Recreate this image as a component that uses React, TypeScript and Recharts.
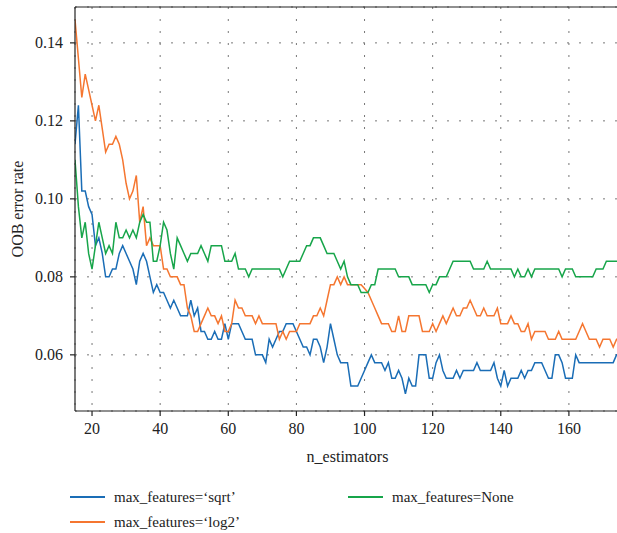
import React from 'react';
import { LineChart, Line, XAxis, YAxis, CartesianGrid, ReferenceLine, Label } from 'recharts';

// n_estimators runs from 15 to 175, one point per tree count
const N_START = 15;
const N_COUNT = 161;
const N_ESTIMATORS = Array.from({ length: N_COUNT }, (_, i) => N_START + i);

// OOB error rate, ten values per row (15-24, 25-34, ...)
const SQRT = [
    0.114, 0.124, 0.102, 0.102, 0.098, 0.096, 0.088, 0.090, 0.086, 0.080,
    0.080, 0.082, 0.082, 0.086, 0.088, 0.086, 0.084, 0.082, 0.078, 0.084,
    0.086, 0.084, 0.080, 0.076, 0.078, 0.076, 0.076, 0.074, 0.072, 0.074,
    0.072, 0.070, 0.070, 0.070, 0.074, 0.070, 0.072, 0.066, 0.066, 0.064,
    0.064, 0.066, 0.064, 0.064, 0.068, 0.064, 0.068, 0.068, 0.068, 0.066,
    0.064, 0.064, 0.064, 0.060, 0.060, 0.060, 0.058, 0.064, 0.062, 0.064,
    0.066, 0.066, 0.068, 0.068, 0.068, 0.066, 0.064, 0.062, 0.062, 0.060,
    0.064, 0.064, 0.062, 0.058, 0.062, 0.068, 0.064, 0.060, 0.058, 0.058,
    0.058, 0.052, 0.052, 0.052, 0.054, 0.056, 0.058, 0.060, 0.058, 0.058,
    0.058, 0.056, 0.058, 0.054, 0.054, 0.056, 0.054, 0.050, 0.054, 0.052,
    0.052, 0.060, 0.060, 0.060, 0.054, 0.054, 0.058, 0.060, 0.056, 0.054,
    0.054, 0.054, 0.056, 0.054, 0.056, 0.056, 0.056, 0.056, 0.058, 0.056,
    0.056, 0.056, 0.056, 0.058, 0.054, 0.052, 0.056, 0.052, 0.054, 0.054,
    0.054, 0.056, 0.054, 0.056, 0.056, 0.058, 0.058, 0.058, 0.056, 0.054,
    0.054, 0.060, 0.060, 0.058, 0.054, 0.054, 0.054, 0.060, 0.058, 0.058,
    0.058, 0.058, 0.058, 0.058, 0.058, 0.058, 0.058, 0.058, 0.058, 0.060,
    0.060,
];

const LOG2 = [
    0.146, 0.136, 0.126, 0.132, 0.128, 0.124, 0.120, 0.124, 0.118, 0.112,
    0.114, 0.114, 0.116, 0.114, 0.110, 0.104, 0.100, 0.102, 0.106, 0.094,
    0.098, 0.088, 0.090, 0.088, 0.088, 0.088, 0.082, 0.082, 0.080, 0.080,
    0.080, 0.078, 0.078, 0.072, 0.070, 0.066, 0.066, 0.068, 0.070, 0.072,
    0.070, 0.070, 0.068, 0.070, 0.066, 0.066, 0.068, 0.074, 0.072, 0.072,
    0.070, 0.070, 0.070, 0.068, 0.070, 0.068, 0.068, 0.068, 0.068, 0.068,
    0.064, 0.066, 0.064, 0.066, 0.066, 0.066, 0.068, 0.068, 0.068, 0.068,
    0.070, 0.070, 0.072, 0.070, 0.074, 0.078, 0.078, 0.080, 0.078, 0.080,
    0.078, 0.078, 0.078, 0.078, 0.078, 0.077, 0.076, 0.074, 0.072, 0.070,
    0.068, 0.068, 0.068, 0.066, 0.066, 0.070, 0.066, 0.066, 0.070, 0.070,
    0.070, 0.070, 0.066, 0.066, 0.066, 0.068, 0.066, 0.068, 0.070, 0.068,
    0.070, 0.072, 0.070, 0.070, 0.072, 0.072, 0.074, 0.072, 0.070, 0.070,
    0.072, 0.070, 0.070, 0.070, 0.072, 0.068, 0.068, 0.068, 0.070, 0.068,
    0.068, 0.066, 0.066, 0.068, 0.064, 0.066, 0.066, 0.066, 0.066, 0.064,
    0.064, 0.064, 0.066, 0.064, 0.064, 0.064, 0.064, 0.064, 0.066, 0.068,
    0.066, 0.064, 0.064, 0.064, 0.062, 0.064, 0.064, 0.064, 0.062, 0.064,
    0.064,
];

const NONE = [
    0.110, 0.098, 0.090, 0.094, 0.086, 0.082, 0.088, 0.094, 0.090, 0.086,
    0.088, 0.086, 0.094, 0.090, 0.090, 0.092, 0.090, 0.092, 0.090, 0.094,
    0.096, 0.094, 0.094, 0.084, 0.084, 0.088, 0.094, 0.092, 0.086, 0.082,
    0.090, 0.088, 0.086, 0.084, 0.086, 0.086, 0.086, 0.088, 0.086, 0.084,
    0.088, 0.088, 0.088, 0.088, 0.084, 0.084, 0.084, 0.086, 0.082, 0.082,
    0.082, 0.080, 0.082, 0.082, 0.082, 0.082, 0.082, 0.082, 0.082, 0.082,
    0.082, 0.080, 0.082, 0.084, 0.084, 0.084, 0.084, 0.086, 0.088, 0.088,
    0.090, 0.090, 0.090, 0.088, 0.086, 0.086, 0.086, 0.084, 0.082, 0.084,
    0.080, 0.078, 0.078, 0.078, 0.076, 0.076, 0.076, 0.078, 0.078, 0.082,
    0.082, 0.082, 0.082, 0.082, 0.082, 0.080, 0.080, 0.080, 0.080, 0.078,
    0.078, 0.078, 0.078, 0.078, 0.076, 0.078, 0.078, 0.080, 0.080, 0.080,
    0.082, 0.084, 0.084, 0.084, 0.084, 0.084, 0.084, 0.082, 0.082, 0.082,
    0.082, 0.084, 0.082, 0.082, 0.082, 0.082, 0.082, 0.082, 0.082, 0.080,
    0.082, 0.080, 0.080, 0.082, 0.080, 0.082, 0.082, 0.082, 0.082, 0.082,
    0.082, 0.082, 0.082, 0.080, 0.082, 0.082, 0.082, 0.080, 0.080, 0.080,
    0.080, 0.080, 0.080, 0.082, 0.082, 0.082, 0.084, 0.084, 0.084, 0.084,
    0.084,
];

const X_TICKS = [20, 40, 60, 80, 100, 120, 140, 160];
const Y_TICKS = [0.06, 0.08, 0.1, 0.12, 0.14];
const X_DOMAIN: [number, number] = [15, 175];
const Y_DOMAIN: [number, number] = [0.0456, 0.1492];

const SERIES = [
    { key: 'sqrt', name: 'max_features=\u2018sqrt\u2019', color: '#1a6db6' },
    { key: 'log2', name: 'max_features=\u2018log2\u2019', color: '#f57630' },
    { key: 'none', name: 'max_features=None', color: '#17a54a' },
];

const data = N_ESTIMATORS.map((n, i) => ({ n, sqrt: SQRT[i], log2: LOG2[i], none: NONE[i] }));

const FONT = '"Liberation Serif", "DejaVu Serif", serif';
const INK = '#222';

const XTick = (props: any) => (
    <text x={props.x} y={props.y} dy={12} textAnchor="middle" fontFamily={FONT} fontSize={16} fill={INK}>
        {props.payload.value}
    </text>
);

const YTick = (props: any) => (
    <text x={props.x} y={props.y} dy={5} textAnchor="end" fontFamily={FONT} fontSize={16} fill={INK}>
        {Number(props.payload.value).toFixed(2)}
    </text>
);

const YTitle = (props: any) => {
    const { x, y, height } = props.viewBox;
    const cx = x + 17;
    const cy = y + height / 2;
    return (
        <text x={cx} y={cy} transform={`rotate(-90, ${cx}, ${cy})`} textAnchor="middle"
            dominantBaseline="central" fontFamily={FONT} fontSize={16} fill={INK}>
            OOB error rate
        </text>
    );
};

const XTitle = (props: any) => {
    const { x, y, width } = props.viewBox;
    return (
        <text x={x + width / 2} y={y + 51} textAnchor="middle" fontFamily={FONT} fontSize={16} fill={INK}>
            n_estimators
        </text>
    );
};

const legendItem = (s: typeof SERIES[number], left: number, top: number) => (
    <div key={s.key} style={{ position: 'absolute', left, top, height: 20, display: 'flex', alignItems: 'center' }}>
        <span style={{ display: 'inline-block', width: 35, height: 2, background: s.color, marginRight: 9 }} />
        <span style={{ fontFamily: FONT, fontSize: 15, lineHeight: '20px', color: INK, whiteSpace: 'nowrap' }}>{s.name}</span>
    </div>
);

export default function App() {
    return (
        <div style={{ position: 'fixed', left: 0, top: 0, width: 617, height: 533, overflow: 'hidden', background: '#fff' }}>
            <LineChart width={620} height={533} data={data} margin={{ top: 7, right: 0, left: 0, bottom: 62 }}
                style={{ fontFamily: FONT }}>
                <CartesianGrid stroke="#777" strokeDasharray="2 10" />
                <XAxis dataKey="n" type="number" domain={X_DOMAIN} ticks={X_TICKS} allowDataOverflow
                    height={60} tickSize={5} tickMargin={6} stroke={INK} strokeWidth={1.2} tick={<XTick />}>
                    <Label content={XTitle} />
                </XAxis>
                <YAxis type="number" domain={Y_DOMAIN} ticks={Y_TICKS} allowDataOverflow width={75}
                    tickSize={5} tickMargin={7} stroke={INK} strokeWidth={1.2} tick={<YTick />}>
                    <Label content={YTitle} />
                </YAxis>
                <ReferenceLine y={Y_DOMAIN[1]} stroke={INK} strokeWidth={1.2} />
                {SERIES.map((s) => (
                    <Line key={s.key} type="linear" dataKey={s.key} name={s.name} stroke={s.color}
                        strokeWidth={1.5} dot={false} isAnimationActive={false} />
                ))}
            </LineChart>
            {legendItem(SERIES[0], 70, 487)}
            {legendItem(SERIES[2], 348, 487)}
            {legendItem(SERIES[1], 70, 512)}
        </div>
    );
}
